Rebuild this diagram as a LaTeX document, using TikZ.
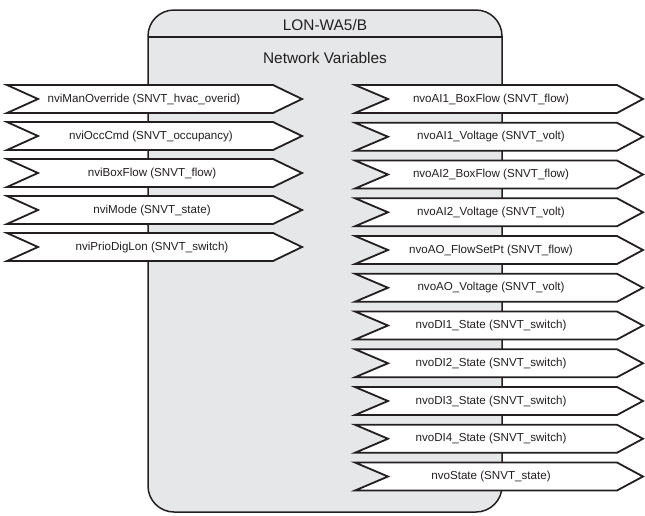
\documentclass[tikz,border=0pt]{standalone}
\usepackage{fontspec}
\setmainfont{Liberation Sans}
\definecolor{boxgray}{HTML}{E6E7E8}
\definecolor{ink}{HTML}{231F20}
\begin{document}
\begin{tikzpicture}[x=1pt,y=-1pt,
  mainbox/.style={fill=boxgray,draw=ink,line width=1.5pt,rounded corners=26pt},
  sigshape/.style={fill=white,draw=ink,line width=1.8pt,line join=miter},
  lab/.style={font=\fontsize{11.6}{13}\selectfont,text=ink,inner sep=0pt},
  head/.style={font=\fontsize{15.4}{18}\selectfont,text=ink,inner sep=0pt}]
\useasboundingbox (0,0) rectangle (645,515);
% main box
\draw[mainbox] (148,10) rectangle (502,512);
\draw[ink,line width=1.4pt] (148,37) -- (502,37);
\node[head] (title) at (325,25) {LON-WA5/B};
\node[head] (nv) at (325,57.5) {Network Variables};
% input variables (left)
\foreach \t/\cx [count=\i] in {{nviManOverride (SNVT\_hvac\_overid)}/144,
  {nviOccCmd (SNVT\_occupancy)}/151,
  {nviBoxFlow (SNVT\_flow)}/152,
  {nviMode (SNVT\_state)}/152,
  {nviPrioDigLon (SNVT\_switch)}/152}{
  \pgfmathsetmacro{\yc}{99+(\i-1)*37}
  \draw[sigshape] (7,\yc-14) -- (273,\yc-14) -- (302,\yc) -- (273,\yc+14)
     -- (7,\yc+14) -- (38,\yc) -- cycle;
  \node[lab] (in\i) at (\cx,\yc) {\t};
}
% output variables (right)
\foreach \t [count=\i] in {{nvoAI1\_BoxFlow (SNVT\_flow)},
  {nvoAI1\_Voltage (SNVT\_volt)},
  {nvoAI2\_BoxFlow (SNVT\_flow)},
  {nvoAI2\_Voltage (SNVT\_volt)},
  {nvoAO\_FlowSetPt (SNVT\_flow)},
  {nvoAO\_Voltage (SNVT\_volt)},
  {nvoDI1\_State (SNVT\_switch)},
  {nvoDI2\_State (SNVT\_switch)},
  {nvoDI3\_State (SNVT\_switch)},
  {nvoDI4\_State (SNVT\_switch)},
  {nvoState (SNVT\_state)}}{
  \pgfmathsetmacro{\yc}{99+(\i-1)*37.75}
  \draw[sigshape] (355,\yc-14) -- (617,\yc-14) -- (643,\yc) -- (617,\yc+14)
     -- (355,\yc+14) -- (388,\yc) -- cycle;
  \node[lab] (out\i) at (491,\yc) {\t};
}
\end{tikzpicture}
\end{document}
